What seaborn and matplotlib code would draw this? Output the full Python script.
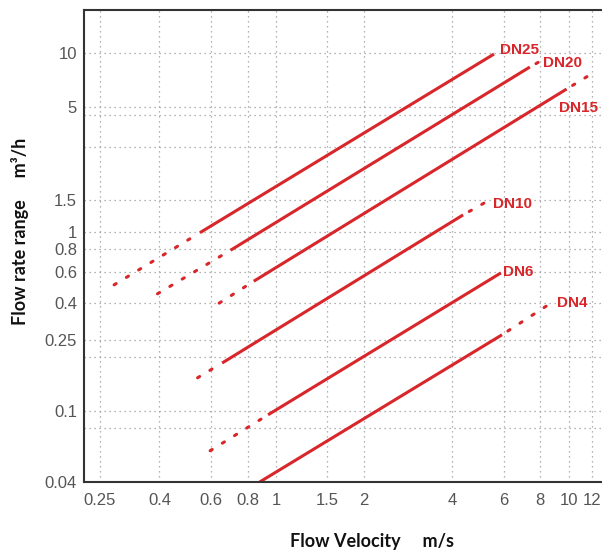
import numpy as np
import pandas as pd
import matplotlib
matplotlib.use('Agg')
import matplotlib.pyplot as plt
from matplotlib.ticker import FixedLocator, NullFormatter
import seaborn as sns

# datos (velocidad m/s, caudal m3/h)
names = ['DN25', 'DN20', 'DN15', 'DN10', 'DN6', 'DN4']

solid_v = [(0.55, 5.56), (0.70, 7.37), (0.84, 9.84), (0.655, 4.36), (0.94, 5.87), (0.88, 5.92)]
solid_q = [(0.99, 9.87), (0.79, 8.35), (0.53, 6.29), (0.185, 1.245), (0.095, 0.59), (0.04, 0.266)]

# tramo punteado inferior / superior (None = no hay)
low_v = [(0.28, 0.55), (0.394, 0.70), (0.64, 0.84), (0.54, 0.655), (0.596, 0.94), None]
low_q = [(0.506, 0.99), (0.451, 0.79), (0.40, 0.53), (0.153, 0.185), (0.0598, 0.095), None]
high_v = [None, (7.37, 7.9), (9.84, 11.9), (4.36, 5.22), None, (5.92, 8.7)]
high_q = [None, (8.35, 8.9), (6.29, 7.6), (1.245, 1.47), None, (0.266, 0.40)]

# posicion de las etiquetas
label_v = [5.82, 8.16, 9.25, 5.51, 5.96, 9.1]
label_q = [10.4, 8.8, 4.93, 1.43, 0.598, 0.40]

x_ticks = [0.25, 0.4, 0.6, 0.8, 1, 1.5, 2, 4, 6, 8, 10, 12]
y_ticks = [0.04, 0.1, 0.25, 0.4, 0.6, 0.8, 1, 1.5, 5, 10]
y_grid_extra = [0.08, 0.2, 3, 4.5]

red = '#d8262a'

sns.set_style('white')
plt.rcParams['font.family'] = ['Liberation Sans', 'DejaVu Sans']

fig = plt.figure(figsize=(6.02, 5.53), dpi=100)
ax = fig.add_axes([84 / 602, 1 - 482 / 553, 1 - 84 / 602, (482 - 10) / 553])

dash = (0, (0.8, 3.9))
dash_gap = (2.4, (0.8, 3.9))

for i, name in enumerate(names):
    df = pd.DataFrame({'v': solid_v[i], 'q': solid_q[i]})
    sns.lineplot(data=df, x='v', y='q', ax=ax, color=red, lw=2.2,
                 estimator=None, sort=False, solid_capstyle='butt')
    if low_v[i] is not None:
        df = pd.DataFrame({'v': low_v[i], 'q': low_q[i]})
        sns.lineplot(data=df, x='v', y='q', ax=ax, color=red, lw=2.2,
                     estimator=None, sort=False, linestyle=dash,
                     dash_capstyle='round')
    if high_v[i] is not None:
        df = pd.DataFrame({'v': high_v[i], 'q': high_q[i]})
        sns.lineplot(data=df, x='v', y='q', ax=ax, color=red, lw=2.2,
                     estimator=None, sort=False, linestyle=dash_gap,
                     dash_capstyle='round')
    ax.text(label_v[i], label_q[i], name, color=red, fontsize=11,
            fontweight='bold', ha='left', va='center')

ax.set_xscale('log')
ax.set_yscale('log')
ax.set_xlim(0.221, 13.0)
ax.set_ylim(0.04, 17.4)

ax.xaxis.set_major_locator(FixedLocator(x_ticks))
ax.xaxis.set_minor_locator(FixedLocator([]))
ax.set_xticklabels([f'{t:g}' for t in x_ticks])
ax.yaxis.set_major_locator(FixedLocator(y_ticks))
ax.yaxis.set_minor_locator(FixedLocator(y_grid_extra))
ax.yaxis.set_minor_formatter(NullFormatter())
ax.set_yticklabels([f'{t:g}' for t in y_ticks])

ax.grid(True, which='both', color='#9a9a9a', linestyle=(0, (1, 3)), lw=0.9)
ax.tick_params(which='both', length=0, labelsize=12, labelcolor='#555555')
ax.tick_params(axis='x', pad=8)
ax.tick_params(axis='y', pad=5)

for s in ['left', 'top', 'bottom']:
    ax.spines[s].set_color('#333333')
    ax.spines[s].set_linewidth(1.5)
ax.spines['right'].set_visible(False)

ax.set_xlabel('Flow Velocity     m/s', fontsize=13, fontweight='bold',
              family=['Lato', 'DejaVu Sans'], color='#111111')
ax.xaxis.set_label_coords((372 - 84) / 518, -(542 - 482) / 472)
ax.xaxis.label.set_va('center')
ax.set_ylabel('Flow rate range     m³/h', fontsize=13, fontweight='bold',
              family=['Lato', 'DejaVu Sans'], color='#111111')
ax.yaxis.set_label_coords((20 - 84) / 518, (482 - 231) / 472)
ax.yaxis.label.set_va('center')

fig.savefig('out.png', dpi=100)
